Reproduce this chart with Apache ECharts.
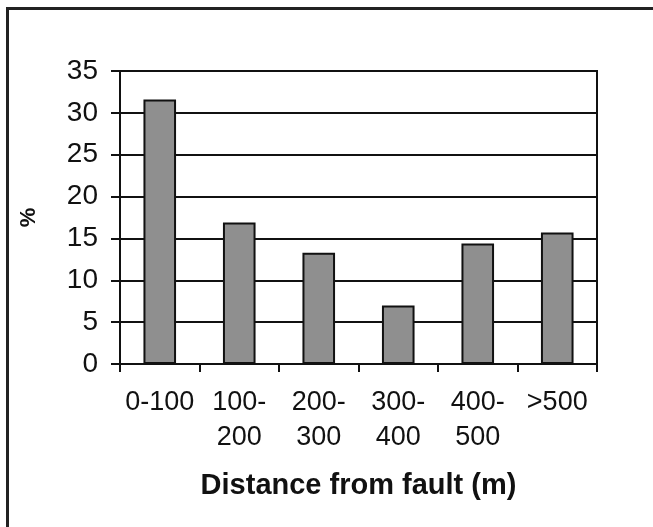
<!DOCTYPE html>
<html>
<head>
<meta charset="utf-8">
<script src="https://cdn.jsdelivr.net/npm/echarts@6/dist/echarts.min.js"></script>
<style>
html,body{margin:0;padding:0;background:#fff;}
#chart{width:653px;height:527px;}
</style>
</head>
<body>
<div id="chart"></div>
<script>
const categories = ['0-100', '100-\n200', '200-\n300', '300-\n400', '400-\n500', '>500'];
const percentValues = [31.6, 16.9, 13.3, 7.0, 14.4, 15.7];
const yTicks = { min: 0, max: 35, interval: 5 };
const xAxisTitle = 'Distance from fault (m)';
const yAxisTitle = '%';

const chart = echarts.init(document.getElementById('chart'), null, { renderer: 'canvas' });
const font = 'Liberation Sans, Arial, sans-serif';
chart.setOption({
  backgroundColor: '#ffffff',
  animation: false,
  graphic: [{
    type: 'rect',
    shape: { x: 7.5, y: 8.5, width: 700, height: 600 },
    style: { fill: 'none', stroke: '#222', lineWidth: 3 },
    z: 100
  }],
  grid: { left: 120, right: 56, top: 71, bottom: 163, show: true, borderColor: '#111', borderWidth: 2, backgroundColor: 'transparent' },
  xAxis: {
    type: 'category',
    data: categories,
    name: xAxisTitle,
    nameLocation: 'middle',
    nameGap: 107,
    nameTextStyle: { fontFamily: font, fontSize: 29, fontWeight: 'bold', color: '#111' },
    axisLine: { lineStyle: { color: '#111', width: 2 } },
    axisTick: { show: true, inside: false, length: 8, alignWithLabel: false, lineStyle: { color: '#111', width: 2 } },
    axisLabel: { fontFamily: font, fontSize: 27, color: '#111', margin: 21, lineHeight: 35, interval: 0 },
    splitLine: { show: false }
  },
  yAxis: {
    type: 'value',
    min: yTicks.min, max: yTicks.max, interval: yTicks.interval,
    name: yAxisTitle,
    nameLocation: 'middle',
    nameRotate: 90,
    nameGap: 80,
    nameTextStyle: { fontFamily: font, fontSize: 22, fontWeight: 'bold', color: '#111' },
    axisLine: { show: true, lineStyle: { color: '#111', width: 2 } },
    axisTick: { show: true, inside: false, length: 9, lineStyle: { color: '#111', width: 2 } },
    axisLabel: { fontFamily: font, fontSize: 28, color: '#111', margin: 22 },
    splitLine: { show: true, lineStyle: { color: '#111', width: 2 } }
  },
  series: [{
    type: 'bar',
    data: percentValues,
    barWidth: '41%',
    itemStyle: { color: '#8f8f8f', borderColor: '#111', borderWidth: 2 }
  }]
});
</script>
</body>
</html>
